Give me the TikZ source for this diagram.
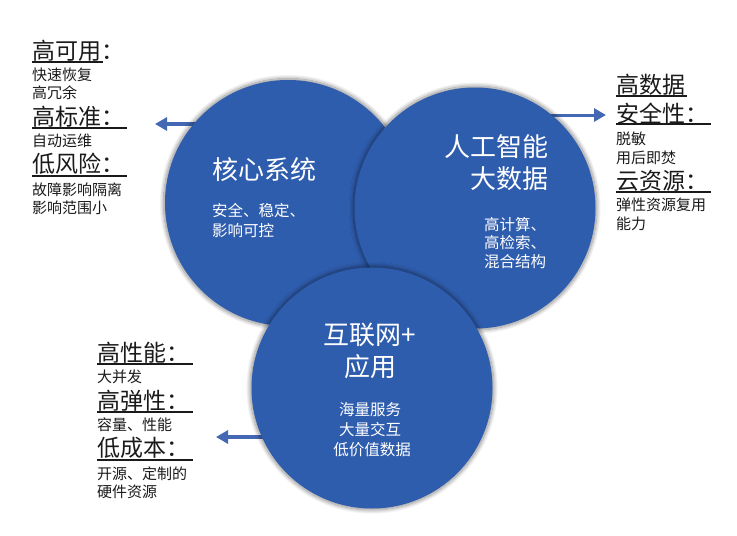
\documentclass[tikz,border=0pt]{standalone}
\usepackage{fontspec}
\setmainfont{Noto Sans CJK SC}
\usetikzlibrary{arrows.meta,shadows.blur}
\definecolor{cblue}{HTML}{2F5DAE}
\definecolor{ablue}{HTML}{4468B4}
\definecolor{tblack}{HTML}{1A1A1A}
\tikzset{
  bigcircle/.style={circle, fill=cblue, inner sep=0pt, minimum size=#1,
    blur shadow={shadow xshift=0pt, shadow yshift=0pt, shadow scale=1.012, shadow opacity=45, shadow blur radius=4pt, shadow blur steps=12}},
  arr/.style={draw=ablue, line width=3.5pt, -{Triangle[length=12pt,width=13pt]}},
  head/.style={anchor=west, inner sep=0pt, text=tblack, font=\fontsize{23}{26}\selectfont},
  sub/.style={anchor=west, inner sep=0pt, text=tblack, font=\fontsize{15}{18}\selectfont},
  uline/.style={draw=tblack, line width=1.1pt},
  ctitle/.style={inner sep=0pt, text=white, font=\fontsize{26}{32}\selectfont},
  ctext/.style={inner sep=0pt, text=white, font=\fontsize{15.5}{19}\selectfont},
}
\begin{document}
\begin{tikzpicture}[x=1pt,y=-1pt]
\useasboundingbox (0,0) rectangle (737,536);
% arrows (behind circles)
\coordinate (a1s) at (205,124); \coordinate (a1e) at (155,124);
\coordinate (a2s) at (540,115); \coordinate (a2e) at (606,115);
\coordinate (a3s) at (270,437); \coordinate (a3e) at (216,437);
\draw[arr] (a1s) -- (a1e);
\draw[arr, line width=3pt] (a2s) -- (a2e);
\draw[arr] (a3s) -- (a3e);
% circles
\node[bigcircle=246pt] (c1) at (288,203) {};
\node[bigcircle=241pt] (c2) at (475,208) {};
\node[bigcircle=241pt] (c3) at (372,388) {};
% circle texts
\node[ctitle, anchor=west] (t1) at (212,170) {核心系统};
\node[ctext, anchor=west] (t1a) at (212,211) {安全、稳定、};
\node[ctext, anchor=west] (t1b) at (212,231) {影响可控};
\node[ctitle, anchor=east] (t2) at (549,147) {人工智能};
\node[ctitle, anchor=east] (t2b) at (549,179) {大数据};
\node[ctext, anchor=west] (t2c) at (484,225) {高计算、};
\node[ctext, anchor=west] (t2d) at (484,243) {高检索、};
\node[ctext, anchor=west] (t2e) at (484,262) {混合结构};
\node[ctitle] (t3) at (370,335) {互联网+};
\node[ctitle] (t3b) at (370,367) {应用};
\node[ctext] (t3c) at (370,410) {海量服务};
\node[ctext] (t3d) at (370,430) {大量交互};
\node[ctext] (t3e) at (372,450) {低价值数据};
% left block
\node[head] (l1) at (32,51) {高可用：};
\draw[uline] (32,62) -- (103,62);
\node[sub] (l2) at (32,75) {快速恢复};
\node[sub] (l3) at (32,93) {高冗余};
\node[head] (l4) at (32,117) {高标准：};
\draw[uline] (32,128) -- (127,128);
\node[sub] (l5) at (32,141) {自动运维};
\node[head] (l6) at (32,164) {低风险：};
\draw[uline] (32,176) -- (127,176);
\node[sub] (l7) at (32,190) {故障影响隔离};
\node[sub] (l8) at (32,208) {影响范围小};
% right block
\node[head] (r1) at (616,85) {高数据};
\draw[uline] (616,96) -- (687,96);
\node[head] (r2) at (616,114) {安全性：};
\draw[uline] (616,124) -- (711,124);
\node[sub] (r3) at (616,139) {脱敏};
\node[sub] (r4) at (616,158) {用后即焚};
\node[head] (r5) at (616,181) {云资源：};
\draw[uline] (616,192) -- (711,192);
\node[sub] (r6) at (616,205) {弹性资源复用};
\node[sub] (r7) at (616,224) {能力};
% bottom-left block
\node[head] (b1) at (97,353) {高性能：};
\draw[uline] (97,364) -- (193,364);
\node[sub] (b2) at (97,377) {大并发};
\node[head] (b3) at (97,401) {高弹性：};
\draw[uline] (97,412) -- (193,412);
\node[sub] (b4) at (97,425) {容量、性能};
\node[head] (b5) at (97,448) {低成本：};
\draw[uline] (97,460) -- (193,460);
\node[sub] (b6) at (97,474) {开源、定制的};
\node[sub] (b7) at (97,492) {硬件资源};
\end{tikzpicture}
\end{document}
